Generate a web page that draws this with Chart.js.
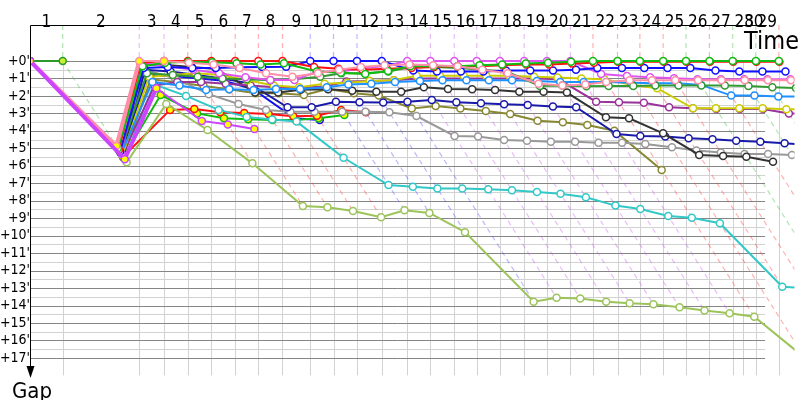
<!DOCTYPE html>
<html>
<head>
<meta charset="utf-8">
<script src="https://cdn.jsdelivr.net/npm/chart.js@4.4.0/dist/chart.umd.min.js"></script>
<style>
  html, body { margin: 0; padding: 0; background: #fff; }
  #wrap { width: 800px; height: 400px; }
</style>
</head>
<body>
<div id="wrap"><canvas id="gapChart" width="800" height="400"></canvas></div>
<script>
// leader's lap times (minutes after the start), lap 0 = start
const lapTimes = [0, 2.97, 9.91, 12.16, 14.32, 16.46, 18.62, 20.72, 22.91, 25.43, 27.54,
  29.67, 31.92, 34.23, 36.33, 38.50, 40.54, 42.64, 44.84, 46.91, 49.04,
  51.08, 53.31, 55.34, 57.45, 59.52, 61.65, 63.76, 65.86, 67.95];
const lapLabels = ["1","2","3","4","5","6","7","8","9","10","11","12","13","14","15",
  "16","17","18","19","20","21","22","23","24","25","26","27","28","29"];
const extraLapTime = 64.66;
const extraLapLabel = "30";
const gapTicks = [0,1,2,3,4,5,6,7,8,9,10,11,12,13,14,15,16,17];

// gap to the leader (minutes) after each lap, lap 0 = start
const soloGreen   = [0, 0];
const limeLead    = [0, 5.0, 0.3, 0.1, 0.05, 0.07, 0.13, 0.2, 0.13, 0.6, 0.67, 0.75, 0.57, 0.3, 0.3, 0.3, 0.25, 0.2, 0.15, 0.1, 0.05, 0, 0, 0, 0, 0, 0, 0, 0, 0];
const red         = [0, 5.1, 0.1, 0, 0, 0, 0, 0, 0, 0.35, 0.45, 0.5, 0.45, 0.4, 0.35, 0.3, 0.3, 0.25, 0.2, 0.2, 0.15, 0.1, 0.05, 0.05, 0.05, 0.05, 0.05, 0.05, 0.05, 0.05];
const blue        = [0, 5.2, 0.4, 0.35, 0.4, 0.4, 0.36, 0.35, 0.33, 0, 0, 0, 0, 0.55, 0.6, 0.6, 0.6, 0.55, 0.55, 0.55, 0.5, 0.4, 0.4, 0.4, 0.4, 0.4, 0.55, 0.6, 0.6, 0.6];
const violet      = [0, 5.3, 0.1, 0.3, 0.5, 0.7, 0.93, 1.09, 1.09, 0.61, 0.61, 0.42, 0.29, 0, 0, 0, 0, 0, 0, 0, 0, 0.74, 0.86, 0.93, 0.99, 1.05, 1.05, 1.05, 1.05, 1.05];
const pink        = [0, 4.87, 0, 0, 0.1, 0.2, 0.4, 0.7, 0.9, 0.7, 0.5, 0.35, 0.25, 0.2, 0.25, 0.3, 0.5, 0.7, 1.3, 1.4, 1.35, 1.2, 1.1, 1.1, 1.1, 1.1, 1.1, 1.1, 1.1, 1.1];
const darkGreen   = [0, 5.2, 0.7, 0.8, 0.9, 1.0, 1.05, 1.1, 1.05, 0.9, 0.7, 0.7, 0.6, 0.35, 0.35, 0.4, 0.5, 0.6, 1.43, 1.41, 1.45, 1.43, 1.43, 1.4, 1.4, 1.4, 1.4, 1.43, 1.5, 1.55];
const dodger      = [0, 5.3, 1.2, 1.4, 1.66, 1.62, 1.66, 1.6, 1.6, 1.5, 1.35, 1.3, 1.2, 1.15, 1.1, 1.1, 1.1, 1.1, 1.15, 1.2, 1.2, 1.2, 1.24, 1.27, 1.27, 1.37, 1.98, 1.98, 2.04, 2.04];
const yellow      = [0, 5.4, 0.9, 0.8, 0.7, 0.8, 1.1, 1.4, 1.5, 1.3, 1.25, 1.15, 1.1, 0.85, 0.85, 0.85, 0.85, 0.85, 0.9, 0.95, 1.0, 1.05, 1.37, 1.56, 2.71, 2.71, 2.71, 2.71, 2.77, 2.77];
const purple      = [0, 5.4, 1.4, 1.2, 1.2, 1.3, 1.4, 1.5, 1.55, 1.45, 1.17, 1.15, 1.1, 1.0, 1.0, 1.0, 1.0, 1.0, 1.0, 1.05, 2.33, 2.36, 2.39, 2.65, 2.7, 2.75, 2.75, 2.75, 3.0, 3.0];
const black       = [0, 5.5, 0.2, 0.23, 0.35, 0.46, 1.8, 1.8, 1.65, 1.62, 1.70, 1.76, 1.76, 1.51, 1.6, 1.62, 1.66, 1.76, 1.76, 1.81, 3.22, 3.28, 4.14, 5.38, 5.44, 5.48, 5.77];
const navy        = [0, 5.5, 0.5, 0.6, 0.8, 1.0, 1.28, 2.65, 2.65, 2.33, 2.36, 2.38, 2.33, 2.23, 2.36, 2.42, 2.48, 2.52, 2.61, 2.65, 4.18, 4.3, 4.33, 4.42, 4.48, 4.56, 4.62, 4.71, 4.8];
const gray        = [0, 5.4, 0.5, 1.0, 1.9, 2.46, 2.8, 2.9, 2.9, 2.9, 2.9, 2.94, 3.15, 4.29, 4.33, 4.52, 4.56, 4.62, 4.62, 4.68, 4.68, 4.75, 4.94, 5.13, 5.24, 5.32, 5.32, 5.38];
const olive       = [0, 5.5, 1.05, 1.22, 1.43, 1.62, 1.85, 1.85, 1.95, 1.6, 1.85, 1.98, 2.72, 2.58, 2.72, 2.86, 3.03, 3.42, 3.51, 3.66, 3.99, 6.24];
const teal        = [0, 5.6, 1.33, 2.0, 2.8, 3.2, 3.35, 3.47, 5.54, 7.1, 7.2, 7.3, 7.3, 7.35, 7.4, 7.5, 7.6, 7.8, 8.28, 8.47, 8.87, 8.97, 9.29, 12.92, 13.0, 13.1, 13.2, 13.3, 13.4, 13.5];
const lightGreen  = [0, 5.8, 2.46, 3.95, 5.86, 8.3, 8.37, 8.59, 8.95, 8.55, 8.7, 9.8, 13.78, 13.55, 13.6, 13.78, 13.87, 13.93, 14.1, 14.29, 14.44, 14.64, 17.0];
const redYellow   = [0, 5.48, 2.8, 2.75, 2.94, 2.98, 3.03, 3.17, 3.13, 2.8, 2.94];
const greenYellow = [0, 5.5, 1.95, 3.0, 3.28, 3.34, 3.38, 3.38, 3.28, 3.09];
const blueYellow  = [0, 5.3, 0.8, 0.86, 1.0, 1.13, 1.6, 3.28, 3.38];
const violetYellow= [0, 5.63, 1.56, 3.43, 3.63, 3.9];

const W = '#ffffff', Y = '#ffff00';
const riders = [
  { gaps: violetYellow, color: '#cc44ff', fill: Y, thick: true },
  { gaps: pink,        color: '#ff8fa8', fill: [Y, Y, Y, Y, W], thick: true },
  { gaps: soloGreen,   color: '#2a9a2a', fill: '#ccee33' },
  { gaps: limeLead,    color: '#11bb11', fill: W },
  { gaps: red,         color: '#ff1111', fill: W },
  { gaps: blue,        color: '#1111ff', fill: W },
  { gaps: violet,      color: '#dd55ee', fill: W },
  { gaps: darkGreen,   color: '#339933', fill: W },
  { gaps: dodger,      color: '#1e90ff', fill: W },
  { gaps: yellow,      color: '#cccc00', fill: W },
  { gaps: purple,      color: '#993399', fill: W },
  { gaps: black,       color: '#333333', fill: W },
  { gaps: navy,        color: '#1a1aaa', fill: W },
  { gaps: gray,        color: '#999999', fill: W },
  { gaps: olive,       color: '#888833', fill: W },
  { gaps: teal,        color: '#33c8c8', fill: W },
  { gaps: lightGreen,  color: '#9cc45a', fill: W },
  { gaps: redYellow,   color: '#ff1111', fill: Y },
  { gaps: greenYellow, color: '#11bb11', fill: Y },
  { gaps: blueYellow,  color: '#1111ee', fill: Y }
];

// dashed "same moment" lines from the leader at each lap
const G = 'rgba(60,190,60,0.4)', V = 'rgba(200,90,240,0.4)', R = 'rgba(255,60,60,0.4)', B = 'rgba(80,80,255,0.4)';
const diagColors = [G, V, V, R, R, R, R, R, B, B, B, B, V, V, V, V, V, V, V, V, R, R, R, R, G, R, G, G, R];

const yTop = -2.06, yBottom = 18, xMax = 69.37, gridEnd = 66.7;

const datasets = [];
riders.forEach(r => {
  const ds = {
    data: r.gaps.map((g, k) => ({ x: lapTimes[k] + g, y: g })),
    borderColor: r.color,
    borderWidth: 2,
    pointRadius: 3.5,
    pointBorderWidth: 1.5,
    pointBorderColor: r.color,
    pointBackgroundColor: Array.isArray(r.fill) ? r.gaps.map((g, k) => r.fill[Math.min(k, r.fill.length - 1)]) : r.fill,
    tension: 0
  };
  if (r.thick) ds.segment = { borderWidth: c => c.p0DataIndex < 2 ? 4 : 2 };
  datasets.push(ds);
});
for (let k = 1; k < lapTimes.length; k++) {
  let maxGap = 0;
  riders.forEach(r => { if (r.gaps.length > k) maxGap = Math.max(maxGap, r.gaps[k]); });
  const t = lapTimes[k];
  datasets.push({
    data: [{ x: t, y: yTop }, { x: t, y: 0 }, { x: t + maxGap, y: maxGap }],
    borderColor: diagColors[k - 1],
    borderWidth: 1.2,
    borderDash: [5, 4],
    pointRadius: 0,
    tension: 0
  });
}

const FONT = '"DejaVu Sans Condensed", "DejaVu Sans", sans-serif';

const decor = {
  id: 'decor',
  beforeDatasetsDraw(chart) {
    const { ctx, scales: { x, y } } = chart;
    const x0 = Math.round(x.getPixelForValue(0)) + 0.5;
    const x1 = x.getPixelForValue(gridEnd);
    ctx.save();
    ctx.lineWidth = 1;
    ctx.strokeStyle = '#d2d2d2';
    for (let g = 0.5; g < 17; g += 1) {
      const py = Math.round(y.getPixelForValue(g)) + 0.5;
      ctx.beginPath(); ctx.moveTo(x0, py); ctx.lineTo(x1, py); ctx.stroke();
    }
    [...lapTimes.slice(1), extraLapTime].forEach(t => {
      const px = Math.round(x.getPixelForValue(t)) + 0.5;
      ctx.beginPath(); ctx.moveTo(px, y.getPixelForValue(0)); ctx.lineTo(px, y.getPixelForValue(yBottom)); ctx.stroke();
    });
    ctx.strokeStyle = '#858585';
    gapTicks.forEach(g => {
      const py = Math.round(y.getPixelForValue(g)) + 0.5;
      ctx.beginPath(); ctx.moveTo(x0, py); ctx.lineTo(x1, py); ctx.stroke();
    });
    ctx.restore();
  },
  afterDraw(chart) {
    const { ctx, scales: { x, y } } = chart;
    const x0 = Math.round(x.getPixelForValue(0)) + 0.5;
    const yAxisTop = Math.round(y.getPixelForValue(yTop)) + 0.5;
    ctx.save();
    ctx.strokeStyle = '#000';
    ctx.fillStyle = '#000';
    ctx.lineWidth = 1;
    // top time axis
    ctx.beginPath(); ctx.moveTo(x0, yAxisTop); ctx.lineTo(x.getPixelForValue(66.85), yAxisTop); ctx.stroke();
    // gap axis with arrow
    ctx.beginPath(); ctx.moveTo(x0, yAxisTop); ctx.lineTo(x0, 370); ctx.stroke();
    ctx.beginPath(); ctx.moveTo(x0 - 4, 366); ctx.lineTo(x0 + 4, 366); ctx.lineTo(x0, 378); ctx.closePath(); ctx.fill();
    // lap labels
    ctx.font = '17px ' + FONT;
    ctx.textAlign = 'center';
    ctx.textBaseline = 'alphabetic';
    lapLabels.forEach((lbl, i) => {
      const px = (x.getPixelForValue(lapTimes[i]) + x.getPixelForValue(lapTimes[i + 1])) / 2;
      ctx.fillText(lbl, px, 27);
    });
    ctx.fillText(extraLapLabel, (x.getPixelForValue(extraLapTime) + x.getPixelForValue(gridEnd)) / 2, 27);
    // gap ticks
    ctx.font = '14px ' + FONT;
    ctx.textAlign = 'right';
    ctx.textBaseline = 'middle';
    gapTicks.forEach(g => ctx.fillText('+' + g + "'", 30, y.getPixelForValue(g)));
    // axis titles
    ctx.textAlign = 'left';
    ctx.textBaseline = 'alphabetic';
    ctx.font = '25px ' + FONT;
    ctx.fillText('Time', 744, 49);
    ctx.font = '22px ' + FONT;
    ctx.fillText('Gap', 12, 398);
    ctx.restore();
  }
};

new Chart(document.getElementById('gapChart'), {
  type: 'line',
  data: { datasets },
  options: {
    responsive: false,
    animation: false,
    layout: { padding: { left: 30, top: 25, right: 0, bottom: 24.6 } },
    plugins: { legend: { display: false }, tooltip: { enabled: false } },
    scales: {
      x: { type: 'linear', display: false, min: 0, max: xMax },
      y: { type: 'linear', display: false, min: yTop, max: yBottom, reverse: true }
    }
  },
  plugins: [decor]
});
</script>
</body>
</html>
